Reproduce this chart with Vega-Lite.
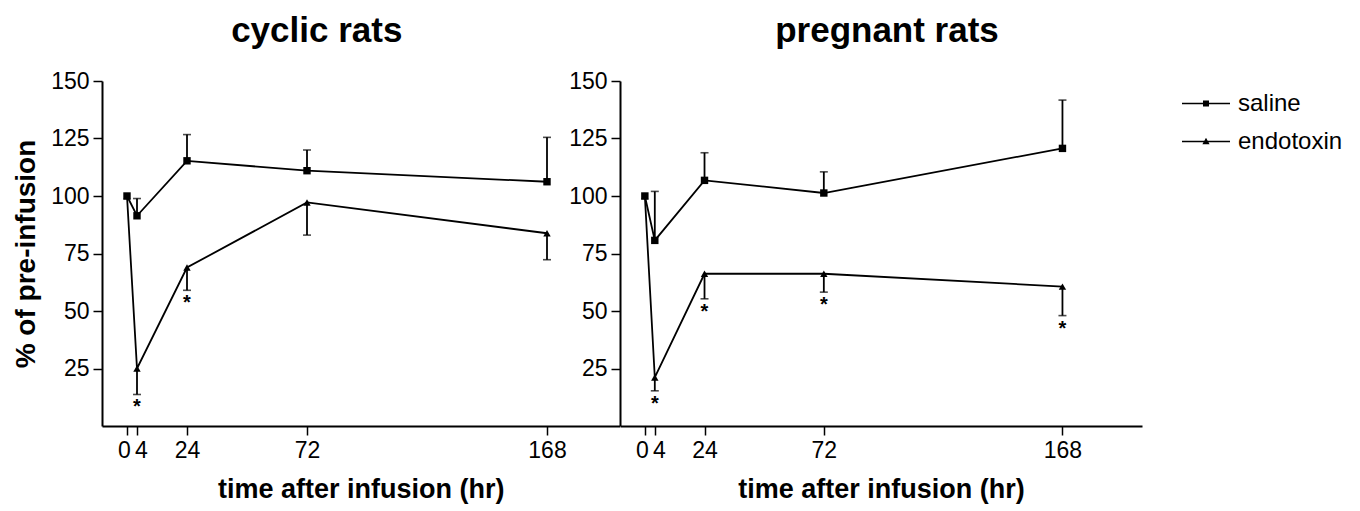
{
  "$schema": "https://vega.github.io/schema/vega-lite/v6.json",
  "background": "white",
  "padding": {"left": 12, "top": 14, "right": 5, "bottom": 5},
  "bounds": "flush",
  "spacing": 0,
  "data": {
    "values": [
      {"group": "cyclic", "treatment": "endotoxin", "time": 0, "mean": 100, "sem_end": null, "sig": false},
      {"group": "cyclic", "treatment": "endotoxin", "time": 4, "mean": 25.0, "sem_end": 13.7, "sig": true},
      {"group": "cyclic", "treatment": "endotoxin", "time": 24, "mean": 68.9, "sem_end": 59.0, "sig": true},
      {"group": "cyclic", "treatment": "endotoxin", "time": 72, "mean": 97.2, "sem_end": 83.0, "sig": false},
      {"group": "cyclic", "treatment": "endotoxin", "time": 168, "mean": 83.8, "sem_end": 72.3, "sig": false},
      {"group": "cyclic", "treatment": "saline", "time": 0, "mean": 100, "sem_end": null, "sig": false},
      {"group": "cyclic", "treatment": "saline", "time": 4, "mean": 91.4, "sem_end": 98.9, "sig": false},
      {"group": "cyclic", "treatment": "saline", "time": 24, "mean": 115.3, "sem_end": 126.7, "sig": false},
      {"group": "cyclic", "treatment": "saline", "time": 72, "mean": 111.0, "sem_end": 120.0, "sig": false},
      {"group": "cyclic", "treatment": "saline", "time": 168, "mean": 106.2, "sem_end": 125.5, "sig": false},
      {"group": "pregnant", "treatment": "endotoxin", "time": 0, "mean": 100, "sem_end": null, "sig": false},
      {"group": "pregnant", "treatment": "endotoxin", "time": 4, "mean": 21.1, "sem_end": 15.3, "sig": true},
      {"group": "pregnant", "treatment": "endotoxin", "time": 24, "mean": 66.2, "sem_end": 55.3, "sig": true},
      {"group": "pregnant", "treatment": "endotoxin", "time": 72, "mean": 66.2, "sem_end": 58.2, "sig": true},
      {"group": "pregnant", "treatment": "endotoxin", "time": 168, "mean": 60.6, "sem_end": 48.0, "sig": true},
      {"group": "pregnant", "treatment": "saline", "time": 0, "mean": 100, "sem_end": null, "sig": false},
      {"group": "pregnant", "treatment": "saline", "time": 4, "mean": 80.7, "sem_end": 102.0, "sig": false},
      {"group": "pregnant", "treatment": "saline", "time": 24, "mean": 106.8, "sem_end": 118.8, "sig": false},
      {"group": "pregnant", "treatment": "saline", "time": 72, "mean": 101.3, "sem_end": 110.5, "sig": false},
      {"group": "pregnant", "treatment": "saline", "time": 168, "mean": 120.7, "sem_end": 141.7, "sig": false}
    ]
  },
  "hconcat": [
    {
      "width": 517.5,
      "height": 345,
      "title": {"text": "cyclic rats", "dx": -44, "offset": 21},
      "transform": [{"filter": "datum.group === 'cyclic'"}],
      "encoding": {
        "x": {"field": "time", "type": "quantitative", "scale": {"domain": [-10, 197], "nice": false, "zero": false},
              "axis": {"title": "time after infusion (hr)", "values": [0, 4, 24, 72, 168],
                       "labelOffset": {"condition": [{"test": "datum.value === 0", "value": -3}, {"test": "datum.value === 4", "value": 4}], "value": 0}}},
        "y": {"field": "mean", "type": "quantitative", "scale": {"domain": [0, 150], "nice": false},
              "axis": {"title": "% of pre-infusion", "values": [25, 50, 75, 100, 125, 150]}}
      },
      "layer": [
        {"mark": {"type": "line", "color": "black", "strokeWidth": 1.8}, "encoding": {"detail": {"field": "treatment"}}},
        {"transform": [{"filter": "datum.sem_end != null"}], "mark": {"type": "rule", "color": "black", "strokeWidth": 1.8},
         "encoding": {"y2": {"field": "sem_end"}}},
        {"transform": [{"filter": "datum.sem_end != null"}], "mark": {"type": "tick", "orient": "horizontal", "color": "black", "size": 8, "thickness": 1.6},
         "encoding": {"y": {"field": "sem_end", "type": "quantitative"}}},
        {"transform": [{"filter": "datum.sig"}], "mark": {"type": "text", "text": "*", "fontSize": 20, "fontWeight": "bold", "dy": 13, "color": "black"},
         "encoding": {"y": {"field": "sem_end", "type": "quantitative"}}},
        {"transform": [{"filter": "datum.treatment === 'endotoxin'"}],
         "mark": {"type": "point", "shape": "triangle-up", "filled": true, "color": "black", "size": 55, "opacity": 1}},
        {"transform": [{"filter": "datum.treatment === 'saline'"}],
         "mark": {"type": "point", "shape": "square", "filled": true, "color": "black", "size": 55, "opacity": 1}}
      ]
    },
    {
      "width": 522,
      "height": 345,
      "title": {"text": "pregnant rats", "dx": 6, "offset": 21},
      "transform": [{"filter": "datum.group === 'pregnant'"}],
      "encoding": {
        "x": {"field": "time", "type": "quantitative", "scale": {"domain": [-10, 200], "nice": false, "zero": false},
              "axis": {"title": "time after infusion (hr)", "values": [0, 4, 24, 72, 168],
                       "labelOffset": {"condition": [{"test": "datum.value === 0", "value": -3}, {"test": "datum.value === 4", "value": 4}], "value": 0}}},
        "y": {"field": "mean", "type": "quantitative", "scale": {"domain": [0, 150], "nice": false},
              "axis": {"title": null, "values": [25, 50, 75, 100, 125, 150]}}
      },
      "layer": [
        {"mark": {"type": "line", "color": "black", "strokeWidth": 1.8}, "encoding": {"detail": {"field": "treatment"}}},
        {"transform": [{"filter": "datum.sem_end != null"}], "mark": {"type": "rule", "color": "black", "strokeWidth": 1.8},
         "encoding": {"y2": {"field": "sem_end"}}},
        {"transform": [{"filter": "datum.sem_end != null"}], "mark": {"type": "tick", "orient": "horizontal", "color": "black", "size": 8, "thickness": 1.6},
         "encoding": {"y": {"field": "sem_end", "type": "quantitative"}}},
        {"transform": [{"filter": "datum.sig"}], "mark": {"type": "text", "text": "*", "fontSize": 20, "fontWeight": "bold", "dy": 13, "color": "black"},
         "encoding": {"y": {"field": "sem_end", "type": "quantitative"}}},
        {"transform": [{"filter": "datum.treatment === 'endotoxin'"}],
         "mark": {"type": "point", "shape": "triangle-up", "filled": true, "color": "black", "size": 55, "opacity": 1}},
        {"transform": [{"filter": "datum.treatment === 'saline'"}],
         "mark": {"type": "point", "shape": "square", "filled": true, "color": "black", "size": 55, "opacity": 1}},
        {"mark": {"type": "point", "filled": true, "color": "black", "opacity": 0},
         "encoding": {"shape": {"field": "treatment", "type": "nominal",
           "scale": {"domain": ["saline", "endotoxin"], "range": ["M-2,-0.06H2V0.06H-2ZM-0.25,-0.25H0.25V0.25H-0.25Z", "M-2,-0.06H2V0.06H-2ZM0,-0.32L0.3,0.22H-0.3Z"]},
           "legend": {"title": null, "orient": "none", "legendX": 1092, "legendY": 10.5,
             "symbolSize": 576, "symbolStrokeWidth": 0, "symbolFillColor": "black", "symbolOpacity": 1,
             "labelFontSize": 24, "labelFont": "Liberation Sans", "labelColor": "black", "labelOffset": 20, "rowPadding": 14,
             "encode": {"symbols": {"update": {"fill": {"value": "black"}, "opacity": {"value": 1}, "fillOpacity": {"value": 1}}}}}}}}
      ]
    }
  ],
  "config": {
    "font": "Liberation Sans",
    "view": {"stroke": null},
    "title": {"font": "Liberation Sans", "fontSize": 35, "fontWeight": "bold", "color": "black", "anchor": "middle"},
    "axis": {
      "grid": false,
      "domainColor": "black", "domainWidth": 2,
      "tickColor": "black", "tickWidth": 1.5, "tickSize": 9,
      "labelFont": "Liberation Sans", "labelFontSize": 23, "labelColor": "black", "labelPadding": 4,
      "labelOverlap": false, "labelBound": false, "labelFlush": false,
      "titleFont": "Liberation Sans", "titleFontSize": 27, "titleFontWeight": "bold", "titleColor": "black"
    },
    "axisX": {"titlePadding": 14},
    "axisY": {"titlePadding": 10, "titleFontSize": 28}
  }
}
